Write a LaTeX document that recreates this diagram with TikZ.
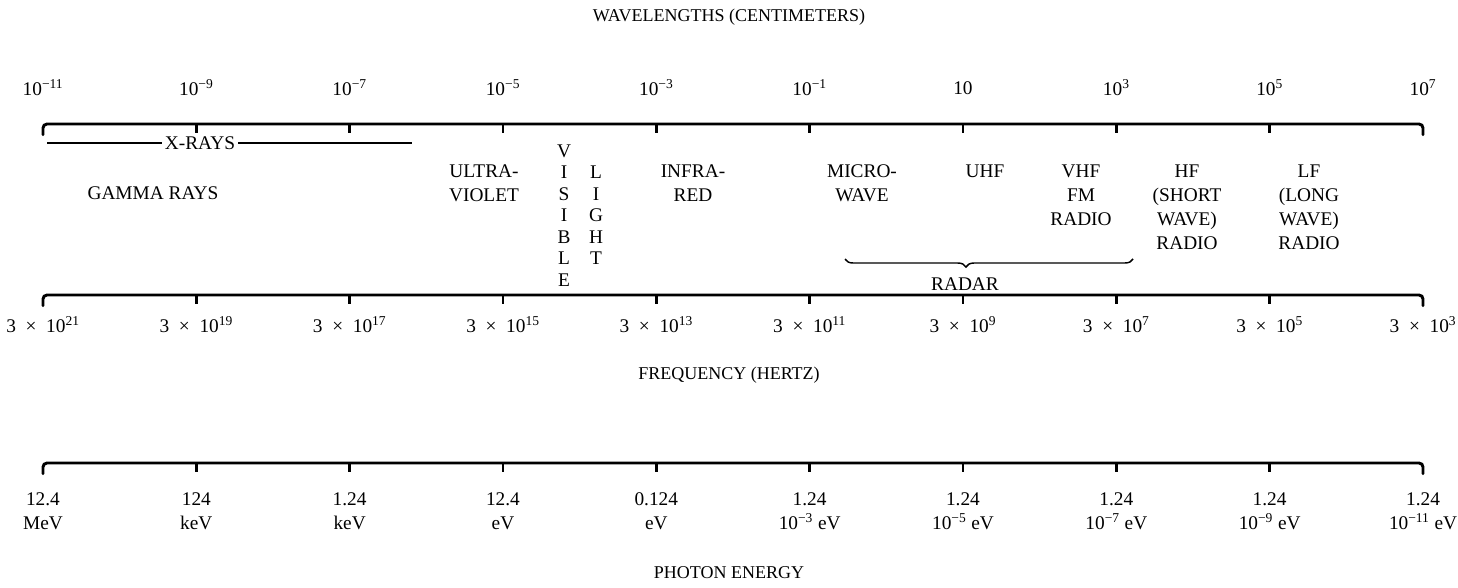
\documentclass[tikz,border=0pt]{standalone}
\usepackage{fontspec}
\setmainfont{Liberation Serif}
\usetikzlibrary{decorations.pathreplacing}
\begin{document}
\begin{tikzpicture}[x=0.75pt,y=-0.75pt,
  lab/.style={font=\fontsize{14.5}{18}\selectfont, align=center, inner sep=0pt},
  stack/.style={font=\fontsize{14.5}{16.1}\selectfont, align=center, inner sep=0pt},
  head/.style={font=\fontsize{13.5}{15}\selectfont, inner sep=0pt},
  axisline/.style={line width=2.2pt, rounded corners=3pt, line cap=round},
  tickmark/.style={line width=2pt},
  thinline/.style={line width=1.1pt},
]
\useasboundingbox (0,0) rectangle (1458,587);

% headings
\node[head] (hwave) at (729,17) {WAVELENGTHS (CENTIMETERS)};
\node[head] (hfreq) at (729,375) {FREQUENCY (HERTZ)};
\node[head] (hphot) at (729,573) {PHOTON ENERGY};

% axes
\foreach \ay/\nm in {124/wa, 295/fa, 463/ea}{
  \coordinate (\nm0) at (43,\ay);
  \coordinate (\nm9) at (1423,\ay);
  \draw[axisline] ([yshift=-8pt]\nm0) -- (\nm0) -- (\nm9) -- ([yshift=-8pt]\nm9);
  \foreach \i in {1,...,8}{
    \pgfmathsetmacro{\tx}{43+153.33*\i}
    \coordinate (\nm\i) at (\tx,\ay);
    \draw[tickmark] (\nm\i) -- ++(0,9);
  }
}

% wavelength labels
\foreach \i/\t in {0/{10\textsuperscript{−11}},1/{10\textsuperscript{−9}},2/{10\textsuperscript{−7}},3/{10\textsuperscript{−5}},4/{10\textsuperscript{−3}},5/{10\textsuperscript{−1}},6/{10},7/{10\textsuperscript{3}},8/{10\textsuperscript{5}},9/{10\textsuperscript{7}}}{
  \node[lab] (wl\i) at ([yshift=27pt]wa\i) {\t};
}

% frequency labels
\foreach \i/\t in {0/21,1/19,2/17,3/15,4/13,5/11,6/9,7/7,8/5,9/3}{
  \node[lab] (fl\i) at ([yshift=-22.5pt]fa\i) {3\enspace×\enspace10\textsuperscript{\t}};
}

% photon energy labels
\foreach \i/\t in {0/{12.4\\MeV},1/{124\\keV},2/{1.24\\keV},3/{12.4\\eV},4/{0.124\\eV},5/{1.24\\10\textsuperscript{−3} eV},6/{1.24\\10\textsuperscript{−5} eV},7/{1.24\\10\textsuperscript{−7} eV},8/{1.24\\10\textsuperscript{−9} eV},9/{1.24\\10\textsuperscript{−11} eV}}{
  \node[lab] (el\i) at ([yshift=-36pt]ea\i) {\t};
}

% X-rays
\coordinate (xl) at (47,143);
\coordinate (xr) at (412,143);
\draw[thinline] (xl) -- (xr);
\node[lab, fill=white, inner xsep=2pt] (xray) at (200,143) {X-RAYS};

% band labels
\node[lab] (gamma) at (153,193) {GAMMA RAYS};
\node[lab] (uv) at (484,183) {ULTRA-\\VIOLET};
\node[stack] (vis) at (564,215.5) {V\\I\\S\\I\\B\\L\\E};
\node[stack] (light) at (596,215.5) {L\\I\\G\\H\\T};
\node[lab] (ir) at (693,183) {INFRA-\\RED};
\node[lab] (mw) at (862,183) {MICRO-\\WAVE};
\node[lab] (uhf) at (985,171) {UHF};
\node[lab] (vhf) at (1081,195) {VHF\\FM\\RADIO};
\node[lab] (hf) at (1187,207) {HF\\(SHORT\\WAVE)\\RADIO};
\node[lab] (lf) at (1309,207) {LF\\(LONG\\WAVE)\\RADIO};

% radar brace
\coordinate (rl) at (845,259);
\coordinate (rr) at (1133,259);
\draw[thinline, decorate, decoration={brace, mirror, amplitude=6pt, aspect=0.42}] (rl) -- (rr);
\node[lab] (radar) at (965,284) {RADAR};
\end{tikzpicture}
\end{document}
